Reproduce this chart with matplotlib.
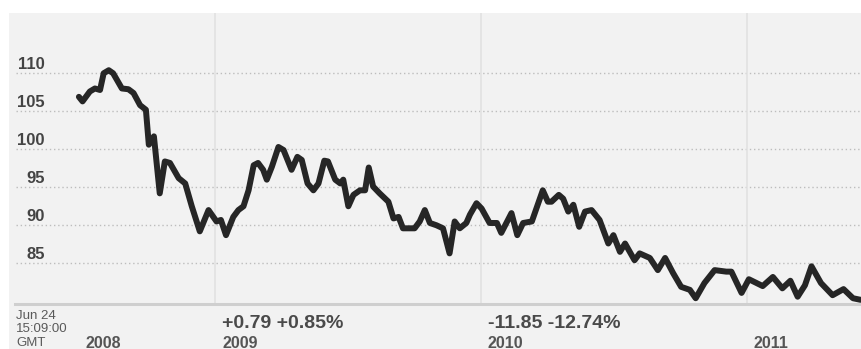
import matplotlib
matplotlib.use("Agg")
import matplotlib.pyplot as plt
import matplotlib.dates as mdates
import pandas as pd

# Price series (approximate weekly closes)
dates_2008 = ["2008-06-28", "2008-07-03", "2008-07-13", "2008-07-20", "2008-07-27",
              "2008-08-01", "2008-08-08", "2008-08-14", "2008-08-26", "2008-09-04",
              "2008-09-11", "2008-09-20", "2008-09-28", "2008-10-02", "2008-10-09",
              "2008-10-17", "2008-10-24", "2008-10-31", "2008-11-12", "2008-11-21",
              "2008-11-30", "2008-12-11", "2008-12-23"]
values_2008 = [106.9, 106.3, 107.6, 108.0, 107.8,
               110.0, 110.4, 110.0, 108.0, 107.9,
               107.4, 105.8, 105.2, 100.6, 101.7,
               94.2, 98.4, 98.2, 96.2, 95.5,
               92.5, 89.2, 92.0]

dates_2009 = ["2009-01-03", "2009-01-09", "2009-01-16", "2009-01-26", "2009-02-02",
              "2009-02-09", "2009-02-16", "2009-02-23", "2009-03-01", "2009-03-08",
              "2009-03-13", "2009-03-20", "2009-03-29", "2009-04-05", "2009-04-16",
              "2009-04-24", "2009-04-30", "2009-05-08", "2009-05-16", "2009-05-23",
              "2009-05-31", "2009-06-05", "2009-06-15", "2009-06-22", "2009-06-26",
              "2009-07-03", "2009-07-10", "2009-07-19", "2009-07-26", "2009-07-31",
              "2009-08-06", "2009-08-15", "2009-08-27", "2009-09-03", "2009-09-10",
              "2009-09-16", "2009-09-23", "2009-10-02", "2009-10-09", "2009-10-16",
              "2009-10-23", "2009-11-01", "2009-11-10", "2009-11-19", "2009-11-26",
              "2009-12-03", "2009-12-12", "2009-12-17", "2009-12-26"]
values_2009 = [90.5, 90.7, 88.7, 91.1, 92.0,
               92.5, 94.6, 97.9, 98.2, 97.3,
               96.0, 97.7, 100.3, 99.9, 97.3,
               99.0, 98.6, 95.5, 94.6, 95.5,
               98.5, 98.4, 96.0, 95.5, 96.0,
               92.5, 94.0, 94.6, 94.6, 97.6,
               95.1, 94.2, 93.1, 90.9, 91.1,
               89.6, 89.6, 89.6, 90.5, 92.0,
               90.3, 90.0, 89.6, 86.3, 90.5,
               89.6, 90.3, 91.4, 92.9]

dates_2010 = ["2010-01-02", "2010-01-13", "2010-01-23", "2010-01-29", "2010-02-12",
              "2010-02-20", "2010-02-28", "2010-03-12", "2010-03-27", "2010-04-03",
              "2010-04-08", "2010-04-18", "2010-04-24", "2010-05-01", "2010-05-08",
              "2010-05-16", "2010-05-24", "2010-06-02", "2010-06-13", "2010-06-25",
              "2010-07-02", "2010-07-11", "2010-07-18", "2010-07-31", "2010-08-07",
              "2010-08-21", "2010-09-01", "2010-09-11", "2010-09-22", "2010-10-03",
              "2010-10-15", "2010-10-23", "2010-11-04", "2010-11-18", "2010-12-04",
              "2010-12-11", "2010-12-25"]
values_2010 = [92.2, 90.3, 90.3, 89.0, 91.6,
               88.7, 90.3, 90.5, 94.6, 93.1,
               93.1, 94.0, 93.5, 91.8, 92.7,
               89.8, 91.8, 92.0, 90.7, 87.6,
               88.7, 86.5, 87.6, 85.4, 86.3,
               85.7, 84.1, 85.7, 83.7, 81.9,
               81.5, 80.4, 82.4, 84.1, 83.9,
               83.9, 81.1]

dates_2011 = ["2011-01-04", "2011-01-23", "2011-02-06", "2011-02-19", "2011-03-02",
              "2011-03-12", "2011-03-22", "2011-03-31", "2011-04-13", "2011-04-29",
              "2011-05-14", "2011-05-27", "2011-06-06", "2011-06-24"]
values_2011 = [82.9, 82.0, 83.2, 81.7, 82.7,
               80.6, 82.1, 84.6, 82.4, 80.8,
               81.6, 80.4, 80.2, 80.2]

y_ticks = [85, 90, 95, 100, 105, 110]
year_labels = ["2009", "2010", "2011"]
first_year_label = "2008"
timestamp_lines = ["Jun 24", "15:09:00", "GMT"]
change_labels = {"2009": "+0.79 +0.85%", "2010": "-11.85 -12.74%"}

dates = pd.to_datetime(dates_2008 + dates_2009 + dates_2010 + dates_2011)
values = values_2008 + values_2009 + values_2010 + values_2011

W, H = 861, 349
fig = plt.figure(figsize=(W / 100, H / 100), dpi=100)
fig.patch.set_facecolor("white")
ax = fig.add_axes([9 / W, 0, (W - 9) / W, (H - 13) / H])
ax.set_facecolor("#f2f2f2")
for s in ax.spines.values():
    s.set_visible(False)
ax.set_xticks([])
ax.set_yticks([])

# scale: one year spans ~266 px, 5 units span ~38 px
x_left = mdates.date2num(pd.Timestamp("2008-03-24"))
x_right = mdates.date2num(pd.Timestamp("2011-06-07"))
ax.set_xlim(x_left, x_right)
y_bottom, y_top = 73.72, 117.93
ax.set_ylim(y_bottom, y_top)
axis_level = 79.66

grid_start = 7 / (W - 9)
for v in y_ticks:
    ax.axhline(v, xmin=grid_start, xmax=1, color="#bdbdbd", lw=1.0,
               linestyle=(0, (1, 2)), zorder=1)

axis_frac = (axis_level - y_bottom) / (y_top - y_bottom)
for yl in year_labels:
    ax.axvline(mdates.date2num(pd.Timestamp(f"{yl}-01-01")), ymin=axis_frac, ymax=1,
               color="#e2e2e2", lw=1.2, zorder=1)

ax.axhline(axis_level, xmin=6 / (W - 9), xmax=1, color="#cfcfcf", lw=2.2, zorder=2)

ax.plot(dates, values, color="#262626", lw=4.3, solid_joinstyle="round",
        solid_capstyle="round", zorder=3)

label_font = "Liberation Sans"
for v in y_ticks:
    ax.annotate(str(v), xy=(0, v), xycoords=("axes fraction", "data"),
                xytext=(36, 4), textcoords="offset pixels", ha="right", va="baseline",
                fontsize=12, fontweight="bold", color="#444444", family=label_font)

# timestamp block at lower left
for i, line in enumerate(timestamp_lines):
    ax.annotate(line, xy=(0, 0), xycoords="axes fraction",
                xytext=(7, 30 - i * 13.5), textcoords="offset pixels",
                ha="left", va="baseline", fontsize=9.5, color="#5a5a5a", family=label_font)

ax.annotate(first_year_label, xy=(0, 0), xycoords="axes fraction",
            xytext=(76, 1.5), textcoords="offset pixels", ha="left", va="baseline",
            fontsize=11.5, fontweight="bold", color="#555555", family=label_font)

for yl in year_labels:
    x0 = mdates.date2num(pd.Timestamp(f"{yl}-01-01"))
    ax.annotate(yl, xy=(x0, 0), xycoords=("data", "axes fraction"),
                xytext=(7, 1.5), textcoords="offset pixels", ha="left", va="baseline",
                fontsize=11.5, fontweight="bold", color="#555555", family=label_font)
    if yl in change_labels:
        ax.annotate(change_labels[yl], xy=(x0, 0), xycoords=("data", "axes fraction"),
                    xytext=(7, 21), textcoords="offset pixels", ha="left", va="baseline",
                    fontsize=14, fontweight="bold", color="#4a4a4a", family=label_font)

fig.savefig("out.png", dpi=100, facecolor=fig.get_facecolor())
